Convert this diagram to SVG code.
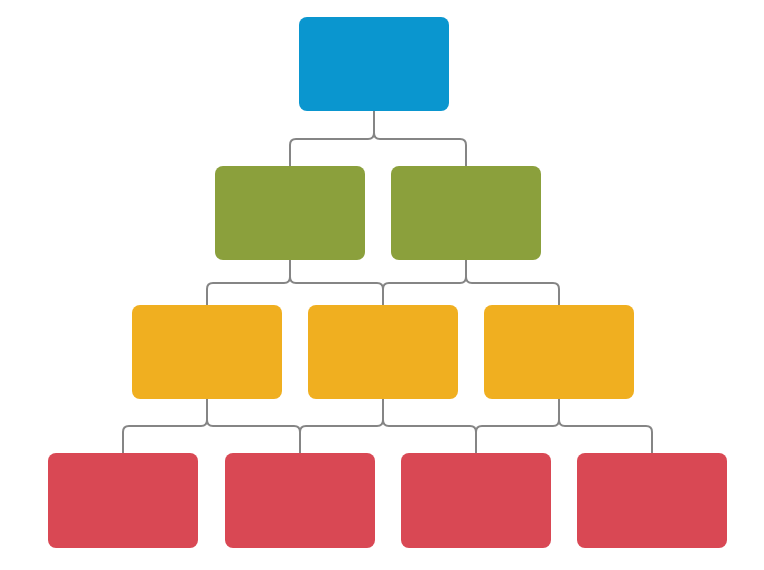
<svg xmlns="http://www.w3.org/2000/svg" width="764" height="570" viewBox="0 0 764 570">
<style>
.n{stroke:none}
.blue{fill:#0A96CF}
.green{fill:#8BA03C}
.yellow{fill:#F0AF20}
.red{fill:#D94854}
.c{fill:none;stroke:#858585;stroke-width:2}
</style>
<rect width="764" height="570" fill="#ffffff"/>
<g id="connectors" class="c">
<path d="M374 111 V133 Q374 139 368 139 H296 Q290 139 290 145 V166"/>
<path d="M374 111 V133 Q374 139 380 139 H460 Q466 139 466 145 V166"/>
<path d="M290 260 V277 Q290 283 284 283 H213 Q207 283 207 289 V305"/>
<path d="M290 260 V277 Q290 283 296 283 H377 Q383 283 383 289 V305"/>
<path d="M466 260 V277 Q466 283 460 283 H389 Q383 283 383 289 V305"/>
<path d="M466 260 V277 Q466 283 472 283 H553 Q559 283 559 289 V305"/>
<path d="M207 399 V420 Q207 426 201 426 H129 Q123 426 123 432 V453"/>
<path d="M207 399 V420 Q207 426 213 426 H294 Q300 426 300 432 V453"/>
<path d="M383 399 V420 Q383 426 377 426 H306 Q300 426 300 432 V453"/>
<path d="M383 399 V420 Q383 426 389 426 H470 Q476 426 476 432 V453"/>
<path d="M559 399 V420 Q559 426 553 426 H482 Q476 426 476 432 V453"/>
<path d="M559 399 V420 Q559 426 565 426 H646 Q652 426 652 432 V453"/>
</g>
<g id="n0"><rect class="n blue" x="299" y="17" width="150" height="94" rx="8"/></g>
<g id="n1"><rect class="n green" x="215" y="166" width="150" height="94" rx="8"/></g>
<g id="n2"><rect class="n green" x="391" y="166" width="150" height="94" rx="8"/></g>
<g id="n3"><rect class="n yellow" x="132" y="305" width="150" height="94" rx="8"/></g>
<g id="n4"><rect class="n yellow" x="308" y="305" width="150" height="94" rx="8"/></g>
<g id="n5"><rect class="n yellow" x="484" y="305" width="150" height="94" rx="8"/></g>
<g id="n6"><rect class="n red" x="48" y="453" width="150" height="95" rx="8"/></g>
<g id="n7"><rect class="n red" x="225" y="453" width="150" height="95" rx="8"/></g>
<g id="n8"><rect class="n red" x="401" y="453" width="150" height="95" rx="8"/></g>
<g id="n9"><rect class="n red" x="577" y="453" width="150" height="95" rx="8"/></g>
</svg>
